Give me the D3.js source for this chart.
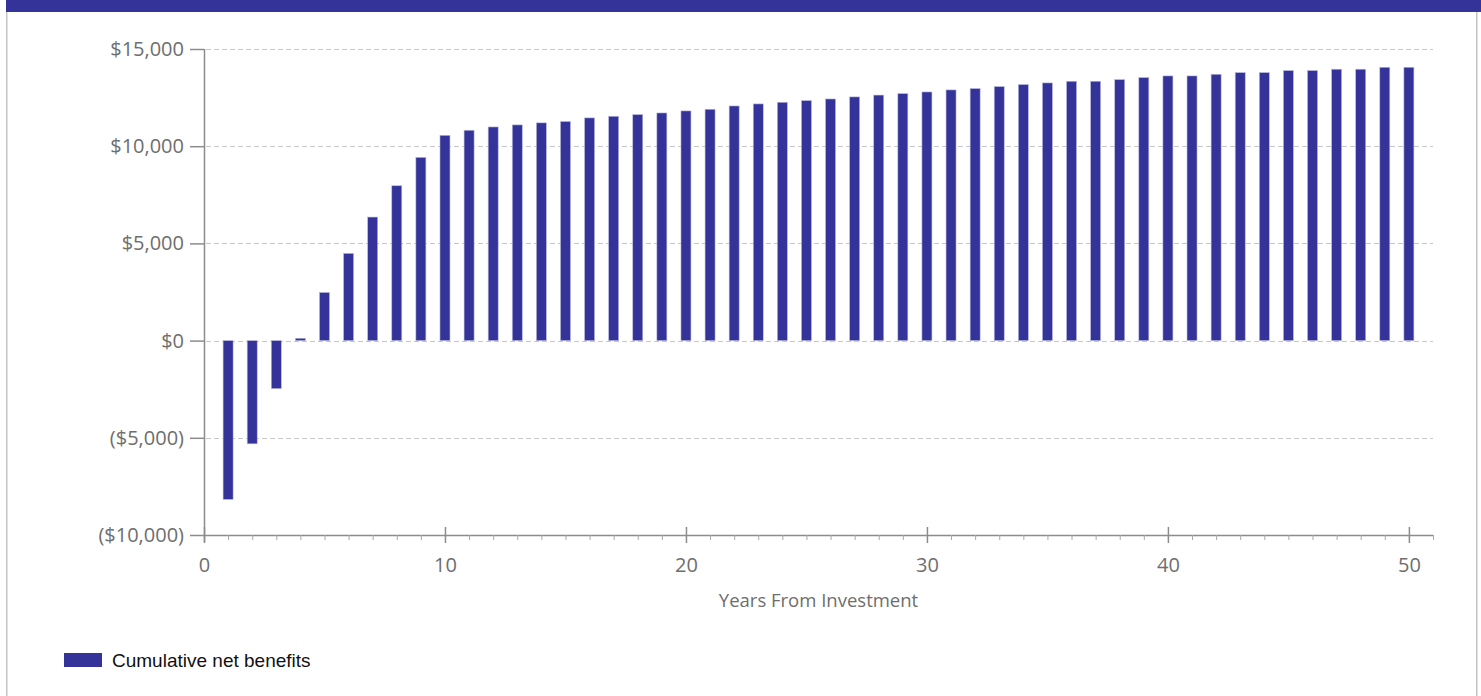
<!DOCTYPE html>
<html>
<head>
<meta charset="utf-8">
<script src="https://cdn.jsdelivr.net/npm/d3@7"></script>
<style>
  html, body { margin: 0; padding: 0; background: #ffffff; }
  svg { display: block; }
</style>
</head>
<body>
<svg id="chart" width="1481" height="696"></svg>
<script>
// Cumulative net benefits by year after the investment
const years = d3.range(1, 51);
const cumulativeNetBenefits = [
  -8170, -5310, -2470, 120, 2475, 4486, 6355, 7965, 9425, 10560,
  10820, 10990, 11095, 11200, 11270, 11455, 11540, 11625, 11710, 11815,
  11900, 12070, 12175, 12260, 12345, 12430, 12535, 12630, 12705, 12790,
  12895, 12965, 13065, 13170, 13255, 13340, 13340, 13425, 13530, 13615,
  13615, 13700, 13785, 13785, 13890, 13890, 13960, 13960, 14060, 14060
];
const yTicks = [-10000, -5000, 0, 5000, 10000, 15000];
const xMajorTicks = [0, 10, 20, 30, 40, 50];
const seriesName = "Cumulative net benefits";
const xTitle = "Years From Investment";

const barColor = "#333399";
const svg = d3.select("#chart");

// frame: top band and side borders
svg.append("rect").attr("x", 6).attr("y", 0).attr("width", 1475).attr("height", 12).attr("fill", barColor);
svg.append("rect").attr("x", 6).attr("y", 12).attr("width", 1.5).attr("height", 684).attr("fill", "#c4c4c4");
svg.append("rect").attr("x", 1476).attr("y", 12).attr("width", 1.5).attr("height", 684).attr("fill", "#c4c4c4");

const x = d3.scaleLinear().domain([0, 51]).range([204, 1433]);
const y = d3.scaleLinear().domain([-10000, 15000]).range([535, 49]);

const fmt = v => v < 0 ? "($" + d3.format(",")(-v) + ")" : "$" + d3.format(",")(v);
const labelFont = "'Open Sans', 'Noto Sans', sans-serif";
const labelColor = "#6e6e6e";
const axisColor = "#8c8c8c";

// dashed horizontal gridlines
svg.append("g").selectAll("line")
  .data(yTicks.filter(v => v > -10000))
  .join("line")
  .attr("x1", x(0) + 2).attr("x2", x(51))
  .attr("y1", d => Math.round(y(d)) + 0.5).attr("y2", d => Math.round(y(d)) + 0.5)
  .attr("stroke", "#c6c6c6").attr("stroke-width", 1)
  .attr("stroke-dasharray", "5,3");

// bars
const barW = 10;
svg.append("g").selectAll("rect")
  .data(years.map((yr, i) => ({ yr, v: cumulativeNetBenefits[i] })))
  .join("rect")
  .attr("x", d => x(d.yr) - barW / 2)
  .attr("width", barW)
  .attr("y", d => Math.min(y(d.v), y(0)))
  .attr("height", d => Math.max(1, Math.abs(y(d.v) - y(0))))
  .attr("fill", barColor)
  .attr("stroke", "#b8b8dc").attr("stroke-width", 0.6);

// y axis
const yAxis = d3.axisLeft(y).tickValues(yTicks).tickFormat(fmt).tickSize(14).tickPadding(6);
const gy = svg.append("g").attr("transform", `translate(${x(0)},0)`).call(yAxis);
gy.select(".domain").attr("d", `M0.5,${y(15000)}V${y(-10000) + 7}`).attr("stroke", axisColor).attr("stroke-width", 1.5);
gy.selectAll(".tick line").attr("stroke", axisColor).attr("stroke-width", 1.5);
gy.selectAll(".tick text").attr("font-family", labelFont).attr("font-size", 20).attr("fill", labelColor);

// x axis: minor ticks every year, major every ten
const xAxisMinor = d3.axisBottom(x).tickValues(d3.range(0, 52)).tickFormat("").tickSize(5);
const gxm = svg.append("g").attr("transform", `translate(0,${y(-10000)})`).call(xAxisMinor);
gxm.select(".domain").attr("d", `M${x(0)},0.5H${x(51)}`).attr("stroke", axisColor).attr("stroke-width", 1.5);
gxm.selectAll(".tick line").attr("stroke", "#a8a8a8").attr("stroke-width", 1);

const xAxisMajor = d3.axisBottom(x).tickValues(xMajorTicks).tickFormat(d3.format("d")).tickSize(8).tickPadding(15);
const gx = svg.append("g").attr("transform", `translate(0,${y(-10000)})`).call(xAxisMajor);
gx.select(".domain").remove();
gx.selectAll(".tick line").attr("y1", -8).attr("stroke", axisColor).attr("stroke-width", 1.5);
gx.selectAll(".tick text").attr("font-family", labelFont).attr("font-size", 20).attr("fill", labelColor);

// x axis title
svg.append("text")
  .attr("x", (x(0) + x(51)) / 2).attr("y", 607)
  .attr("text-anchor", "middle")
  .attr("font-family", labelFont).attr("font-size", 18.5).attr("fill", labelColor)
  .text(xTitle);

// legend
svg.append("rect").attr("x", 64).attr("y", 653).attr("width", 38).attr("height", 14).attr("fill", barColor);
svg.append("text")
  .attr("x", 112).attr("y", 667)
  .attr("font-family", "'Liberation Sans', Arial, sans-serif").attr("font-size", 19).attr("fill", "#111111")
  .text(seriesName);
</script>
</body>
</html>
